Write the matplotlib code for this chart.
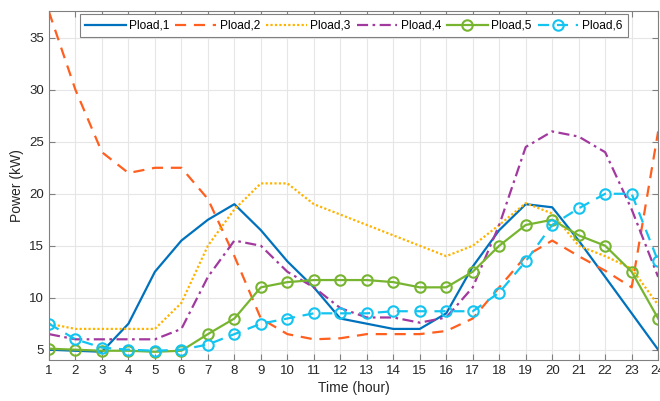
import numpy as np
import matplotlib
matplotlib.use('Agg')
import matplotlib.pyplot as plt

plt.rcParams['font.family'] = ['Liberation Sans', 'DejaVu Sans']

hours = np.arange(1, 25)

pload1 = [5.0, 4.9, 4.8, 7.5, 12.5, 15.5, 17.5, 19.0, 16.5, 13.5, 11.0, 8.0,
          7.5, 7.0, 7.0, 8.5, 13.0, 16.5, 19.0, 18.7, 15.5, 12.0, 8.5, 5.0]
pload2 = [37.5, 30.0, 24.0, 22.0, 22.5, 22.5, 19.5, 14.0, 8.0, 6.5, 6.0, 6.1,
          6.5, 6.5, 6.5, 6.8, 8.0, 11.0, 14.0, 15.5, 14.0, 12.6, 11.0, 26.0]
pload3 = [7.5, 7.0, 7.0, 7.0, 7.0, 9.5, 15.0, 18.5, 21.0, 21.0, 19.0, 18.0,
          17.0, 16.0, 15.0, 14.0, 15.0, 17.0, 19.1, 18.1, 15.0, 14.0, 12.8, 9.3]
pload4 = [6.5, 6.0, 6.0, 6.0, 6.0, 7.0, 12.0, 15.5, 15.0, 12.5, 11.0, 9.0,
          8.1, 8.1, 7.6, 8.1, 11.0, 17.0, 24.5, 26.0, 25.5, 24.0, 18.5, 12.0]
pload5 = [5.1, 5.0, 4.9, 4.9, 4.8, 4.9, 6.5, 8.0, 11.0, 11.5, 11.7, 11.7,
          11.7, 11.5, 11.0, 11.0, 12.5, 15.0, 17.0, 17.5, 16.0, 15.0, 12.5, 8.0]
pload6 = [7.5, 6.0, 5.2, 5.0, 4.9, 5.0, 5.5, 6.5, 7.5, 8.0, 8.5, 8.5,
          8.5, 8.7, 8.7, 8.7, 8.7, 10.5, 13.5, 17.0, 18.6, 20.0, 20.0, 13.5]

fig = plt.figure(figsize=(6.6, 4.01), dpi=100)
ax = fig.add_axes((0.0742, 0.102, 0.923, 0.871))

lw = 1.6
ax.plot(hours, pload1, color='#0072BD', lw=lw, label='Pload,1')
ax.plot(hours, pload2, color='#FF5F1F', lw=lw, ls=(0, (5, 3.5)), label='Pload,2')
ax.plot(hours, pload3, color='#FFB300', lw=lw, ls=(0, (1, 1)), label='Pload,3')
ax.plot(hours, pload4, color='#A2399F', lw=lw, ls=(0, (5, 2, 1.2, 2)), label='Pload,4')
ax.plot(hours, pload5, color='#77B530', lw=lw, marker='o', ms=7.5, mfc='none',
        mew=1.5, label='Pload,5')
ax.plot(hours, pload6, color='#14C4F0', lw=lw, ls=(0, (5, 3.5)), marker='o', ms=7.5,
        mfc='none', mew=1.5, label='Pload,6')

ax.set_xlim(1, 24)
ax.set_ylim(4.0, 37.6)
ax.set_xticks(hours)
ax.set_yticks([5, 10, 15, 20, 25, 30, 35])
ax.grid(True, color='#e6e6e6', lw=0.8)
ax.set_axisbelow(True)
for s in ax.spines.values():
    s.set_color('#808080')
    s.set_linewidth(0.8)
ax.tick_params(direction='in', top=True, right=True, colors='#262626',
               labelsize=9.5, length=4, width=0.8)
ax.tick_params(axis='both', color='#808080')
ax.set_xlabel('Time (hour)', fontsize=10, color='#262626', labelpad=3)
ax.set_ylabel('Power (kW)', fontsize=10, color='#262626', labelpad=4)

leg = ax.legend(loc='upper center', ncol=6, fontsize=8.6, frameon=True, fancybox=False,
                edgecolor='#808080', handlelength=3.4, columnspacing=0.5, handletextpad=0.3,
                borderpad=0.45, borderaxespad=0.3, numpoints=1, framealpha=1)
leg.get_frame().set_linewidth(0.8)

fig.savefig('out.png', dpi=100)
